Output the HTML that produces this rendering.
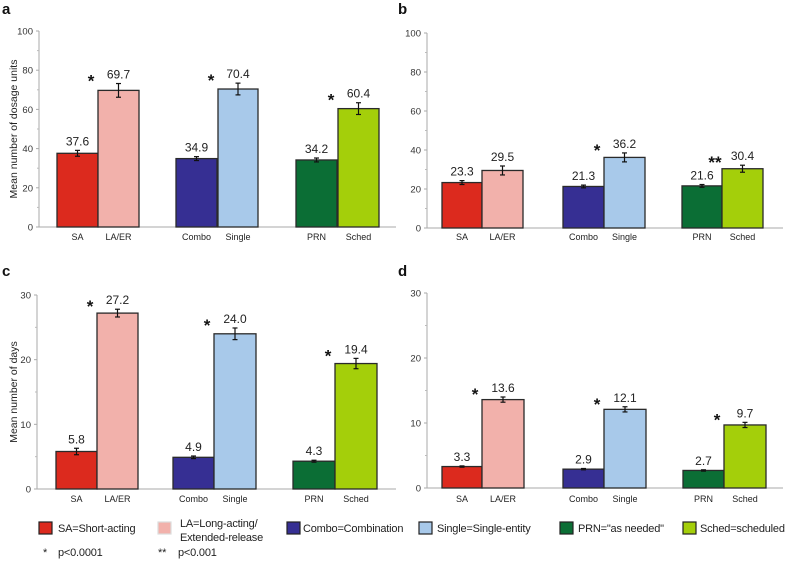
<!DOCTYPE html>
<html><head><meta charset="utf-8"><style>
body{margin:0;background:#fff;}
svg{display:block;font-family:"Liberation Sans",Arial,sans-serif;}
.lgt{font-size:11px;letter-spacing:-0.2px;fill:#222;}
</style></head><body>
<svg id="chart" width="785" height="568" viewBox="0 0 785 568" xmlns="http://www.w3.org/2000/svg"></svg>
<script>
const categories = ["SA","LA/ER","Combo","Single","PRN","Sched"];
const colors = ["#dc2a1e","#f2b1ab","#362f93","#a8c9ea","#0b6e35","#a4cf0a"];
const valuesA = [37.6,69.7,34.9,70.4,34.2,60.4];
const errorsA = [1.5,3.5,1.0,3.0,1.0,3.0];
const starsA = ["","*","","*","","*"];
const valuesB = [23.3,29.5,21.3,36.2,21.6,30.4];
const errorsB = [1.0,2.3,0.7,2.3,0.7,1.8];
const starsB = ["","","","*","","**"];
const valuesC = [5.8,27.2,4.9,24.0,4.3,19.4];
const errorsC = [0.5,0.6,0.2,0.9,0.15,0.8];
const starsC = ["","*","","*","","*"];
const valuesD = [3.3,13.6,2.9,12.1,2.7,9.7];
const errorsD = [0.1,0.4,0.1,0.4,0.1,0.4];
const starsD = ["","*","","*","","*"];
const ticksAB = [0,20,40,60,80,100];
const ticksCD = [0,10,20,30];

const NS="http://www.w3.org/2000/svg";
const svg=document.getElementById('chart');
function mk(tag,attrs,parent,text){const e=document.createElementNS(NS,tag);for(const k in attrs)e.setAttribute(k,attrs[k]);if(text!==undefined)e.textContent=text;(parent||svg).appendChild(e);return e;}

const panels=[
 {id:'a',vals:valuesA,errs:errorsA,stars:starsA,ticks:ticksAB,axX:39,x1:396,y0:227,yTop:31,max:100,bars:[[57,98],[98,139],[176,217],[218,258],[296,337],[338,379]],title:'Mean number of dosage units',labY:240},
 {id:'b',vals:valuesB,errs:errorsB,stars:starsB,ticks:ticksAB,axX:427,x1:783,y0:228,yTop:33,max:100,bars:[[442,482],[482,523],[563,604],[604,645],[682,722],[722,763]],title:null,labY:240},
 {id:'c',vals:valuesC,errs:errorsC,stars:starsC,ticks:ticksCD,axX:37,x1:396,y0:489,yTop:295,max:30,bars:[[56,97],[97,138],[173,214],[214,256],[293,335],[335,377]],title:'Mean number of days',labY:502},
 {id:'d',vals:valuesD,errs:errorsD,stars:starsD,ticks:ticksCD,axX:427,x1:783,y0:488,yTop:293,max:30,bars:[[442,482],[482,524],[563,604],[604,646],[683,724],[724,766]],title:null,labY:502}
];
const labelPos={a:[2,14],b:[398,14],c:[2,276],d:[398,276]};

panels.forEach(p=>{
  const g=mk('g',{},svg);
  
  
  const yS=v=>p.y0-(v/p.max)*(p.y0-p.yTop);
  const pl=mk('text',{x:labelPos[p.id][0],y:labelPos[p.id][1],'font-size':15,'font-weight':'bold',fill:'#111'},g,p.id);
  
  
  const ya=mk('line',{x1:p.axX,y1:p.yTop,x2:p.axX,y2:p.y0,stroke:'#aaa','stroke-width':1},g);
  
  
  const xa=mk('line',{x1:p.axX,y1:p.y0,x2:p.x1,y2:p.y0,stroke:'#aaa','stroke-width':1},g);
  
  
  const step=p.ticks[1]-p.ticks[0];
  for(let i=0;i<p.ticks.length;i++){
    const t=p.ticks[i];
    mk('line',{x1:p.axX-3,y1:yS(t),x2:p.axX,y2:yS(t),stroke:'#aaa'},g);
    if(i<p.ticks.length-1) mk('line',{x1:p.axX-2,y1:yS(t+step/2),x2:p.axX,y2:yS(t+step/2),stroke:'#bbb'},g);
    const tl=mk('text',{x:p.axX-6,y:yS(t)+3.5,'font-size':9.5,'text-anchor':'end',fill:'#333'},g,String(t));
    
    
  }
  if(p.title){
    const cy=(p.y0+p.yTop)/2;
    const tt=mk('text',{x:0,y:0,'font-size':10.5,'text-anchor':'middle',fill:'#222',transform:`translate(17,${cy}) rotate(-90)`},g,p.title);
    
    
  }
  p.vals.forEach((v,i)=>{
    const [bx0,bx1]=p.bars[i];
    const yv=yS(v);
    const r=mk('rect',{x:bx0,y:yv,width:bx1-bx0,height:p.y0-yv,fill:colors[i],stroke:'#2a2a2a','stroke-width':1.3},g);
    
    
    const cx=(bx0+bx1)/2, e=p.errs[i];
    const eg=mk('g',{stroke:'#111','stroke-width':1.2},g);
    
    
    mk('line',{x1:cx,y1:yS(v+e),x2:cx,y2:yS(v-e)},eg);
    mk('line',{x1:cx-2.5,y1:yS(v+e),x2:cx+2.5,y2:yS(v+e)},eg);
    mk('line',{x1:cx-2.5,y1:yS(v-e),x2:cx+2.5,y2:yS(v-e)},eg);
    const vl=mk('text',{x:cx,y:yS(v+e)-5,'font-size':12,'text-anchor':'middle',fill:'#222'},g,v.toFixed(1));
    
    
    if(p.stars[i]){
      const s=mk('text',{x:bx0-7,y:yS(v+e)+3,'font-size':17,'font-weight':'bold','text-anchor':'middle',fill:'#111'},g,p.stars[i]);
      
      
    }
    const xl=mk('text',{x:cx,y:p.labY,'font-size':9,'text-anchor':'middle',fill:'#222'},g,categories[i]);
    
    
  });
});

const legendLabels=[["SA=Short-acting"],["LA=Long-acting/","Extended-release"],["Combo=Combination"],["Single=Single-entity"],["PRN=\"as needed\""],["Sched=scheduled"]];
const legendX=[39,158,287,419,560,683];
const legendTX=[58,180,303,437,578,700];
const lg=mk('g',{},svg);


legendLabels.forEach((lab,i)=>{
  const e=mk('g',{},lg);
  
  
  mk('rect',{x:legendX[i],y:522,width:13,height:12,fill:colors[i],stroke:i===1?'#ddd':'#222','stroke-width':1.2},e);
  if(lab.length===1) mk('text',{x:legendTX[i],y:532,class:'lgt'},e,lab[0]);
  else { mk('text',{x:legendTX[i],y:527,class:'lgt'},e,lab[0]); mk('text',{x:legendTX[i],y:541,class:'lgt'},e,lab[1]); }
});
const n1=mk('text',{x:43,y:556,class:'lgt'},svg,"*");


const n2=mk('text',{x:58,y:556,class:'lgt'},svg,"p<0.0001");


const n3=mk('text',{x:158,y:556,class:'lgt'},svg,"**");


const n4=mk('text',{x:178,y:556,class:'lgt'},svg,"p<0.001");


</script>
</body></html>
